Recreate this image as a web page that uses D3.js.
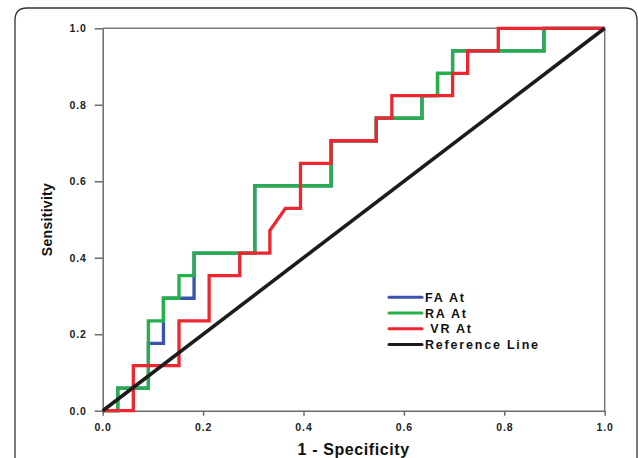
<!DOCTYPE html>
<html>
<head>
<meta charset="utf-8">
<script src="https://cdn.jsdelivr.net/npm/d3@7"></script>
<style>
  html, body { margin: 0; padding: 0; background: #fff; }
  svg { display: block; }
  text { font-family: "Liberation Sans", Arial, sans-serif; }
</style>
</head>
<body>
<svg id="chart" width="638" height="458"></svg>
<script>
// ---- data (ROC operating points) ----
const xTicks = [0.0, 0.2, 0.4, 0.6, 0.8, 1.0];
const yTicks = [0.0, 0.2, 0.4, 0.6, 0.8, 1.0];

const seriesNames = ["FA At", "RA At", " VR At", "Reference Line"];

const faFpr = [0, 0.030, 0.030, 0.091, 0.091, 0.121, 0.121, 0.182, 0.182, 0.303, 0.303, 0.455, 0.455, 0.545, 0.545, 0.636, 0.636, 0.667, 0.667, 0.697, 0.697, 0.879, 0.879, 1];
const faTpr = [0, 0, 0.059, 0.059, 0.176, 0.176, 0.294, 0.294, 0.412, 0.412, 0.588, 0.588, 0.706, 0.706, 0.765, 0.765, 0.824, 0.824, 0.882, 0.882, 0.941, 0.941, 1, 1];

const raFpr = [0, 0.030, 0.030, 0.091, 0.091, 0.121, 0.121, 0.152, 0.152, 0.182, 0.182, 0.303, 0.303, 0.455, 0.455, 0.545, 0.545, 0.636, 0.636, 0.667, 0.667, 0.697, 0.697, 0.879, 0.879, 1];
const raTpr = [0, 0, 0.059, 0.059, 0.235, 0.235, 0.294, 0.294, 0.353, 0.353, 0.412, 0.412, 0.588, 0.588, 0.706, 0.706, 0.765, 0.765, 0.824, 0.824, 0.882, 0.882, 0.941, 0.941, 1, 1];

const vrFpr = [0, 0.061, 0.061, 0.152, 0.152, 0.212, 0.212, 0.273, 0.273, 0.333, 0.333, 0.364, 0.394, 0.394, 0.455, 0.455, 0.545, 0.545, 0.576, 0.576, 0.697, 0.697, 0.727, 0.727, 0.788, 0.788, 1];
const vrTpr = [0, 0, 0.118, 0.118, 0.235, 0.235, 0.353, 0.353, 0.412, 0.412, 0.471, 0.529, 0.529, 0.647, 0.647, 0.706, 0.706, 0.765, 0.765, 0.824, 0.824, 0.882, 0.882, 0.941, 0.941, 1, 1];

const refFpr = [0, 1];
const refTpr = [0, 1];

const colors = ["#3a52b0", "#25b04a", "#ec2730", "#1c1c1c"];

// ---- drawing ----
const svg = d3.select("#chart");

// outer rounded frame
const fr = { l: 15, t: 8, r: 637, b: 470, rad: 12 };
svg.append("path")
  .attr("d", `M${fr.l},${fr.b} L${fr.l},${fr.t + fr.rad} Q${fr.l},${fr.t} ${fr.l + fr.rad},${fr.t} L${fr.r - fr.rad},${fr.t} Q${fr.r},${fr.t} ${fr.r},${fr.t + fr.rad} L${fr.r},${fr.b}`)
  .attr("fill", "none").attr("stroke", "#333").attr("stroke-width", 1.3);

const x = d3.scaleLinear().domain([0, 1]).range([102.7, 604.7]);
const y = d3.scaleLinear().domain([0, 1]).range([410.7, 28.3]);

// plot box top & right borders
svg.append("line").attr("x1", x(0)).attr("x2", x(1)).attr("y1", y(1)).attr("y2", y(1))
  .attr("stroke", "#7a7a7a").attr("stroke-width", 1.5);
svg.append("line").attr("x1", x(1)).attr("x2", x(1)).attr("y1", y(0)).attr("y2", y(1))
  .attr("stroke", "#7a7a7a").attr("stroke-width", 1.5);

const xAxis = svg.append("g").attr("transform", `translate(0,${y(0)})`)
  .call(d3.axisBottom(x).tickValues(xTicks).tickFormat(d3.format(".1f")).tickSize(5).tickPadding(7.5).tickSizeOuter(0));
const yAxis = svg.append("g").attr("transform", `translate(${x(0)},0)`)
  .call(d3.axisLeft(y).tickValues(yTicks).tickFormat(d3.format(".1f")).tickSize(8).tickPadding(8).tickSizeOuter(0));

[xAxis, yAxis].forEach(g => {
  g.select(".domain").attr("stroke", "#6a6a6a").attr("stroke-width", 1.5);
  g.selectAll(".tick line").attr("stroke", "#6a6a6a").attr("stroke-width", 1.5);
  g.selectAll(".tick text")
    .attr("font-family", "Liberation Sans, Arial, sans-serif")
    .attr("font-size", 10.5).attr("font-weight", "bold").attr("fill", "#222")
    .style("letter-spacing", "0.9px");
});

// curves
const line = d3.line().x(d => x(d[0])).y(d => y(d[1]));
const curves = [
  [faFpr, faTpr],
  [raFpr, raTpr],
  [vrFpr, vrTpr],
  [refFpr, refTpr]
];
curves.forEach((c, i) => {
  const pts = c[0].map((v, k) => [v, c[1][k]]);
  svg.append("path").datum(pts)
    .attr("d", line)
    .attr("fill", "none")
    .attr("stroke", colors[i])
    .attr("stroke-width", i === 3 ? 3.6 : 3.3)
    .attr("stroke-linejoin", "miter")
    .attr("stroke-linecap", "butt");
});

// axis titles
svg.append("text")
  .attr("x", (x(0) + x(1)) / 2).attr("y", 455)
  .attr("text-anchor", "middle")
  .attr("font-size", 16).attr("font-weight", "bold").attr("fill", "#111")
  .style("letter-spacing", "0.6px")
  .text("1 - Specificity");

svg.append("text")
  .attr("transform", `translate(52,${(y(0) + y(1)) / 2}) rotate(-90)`)
  .attr("text-anchor", "middle")
  .attr("font-size", 14).attr("font-weight", "bold").attr("fill", "#111")
  .style("letter-spacing", "0.3px")
  .text("Sensitivity");

// legend
const legX0 = 389, legX1 = 422, legY0 = 297.3, legDy = 15.7;
const leg = svg.append("g");
seriesNames.forEach((name, i) => {
  const yy = legY0 + i * legDy;
  leg.append("line")
    .attr("x1", legX0).attr("x2", legX1).attr("y1", yy).attr("y2", yy)
    .attr("stroke", colors[i]).attr("stroke-width", 3).attr("stroke-linecap", "round");
  leg.append("text")
    .attr("x", legX1 + 3).attr("y", yy + 4.6)
    .attr("font-size", 12.5).attr("font-weight", "bold").attr("fill", "#111")
    .style("letter-spacing", "1.8px").style("white-space", "pre")
    .text(name);
});
</script>
</body>
</html>
